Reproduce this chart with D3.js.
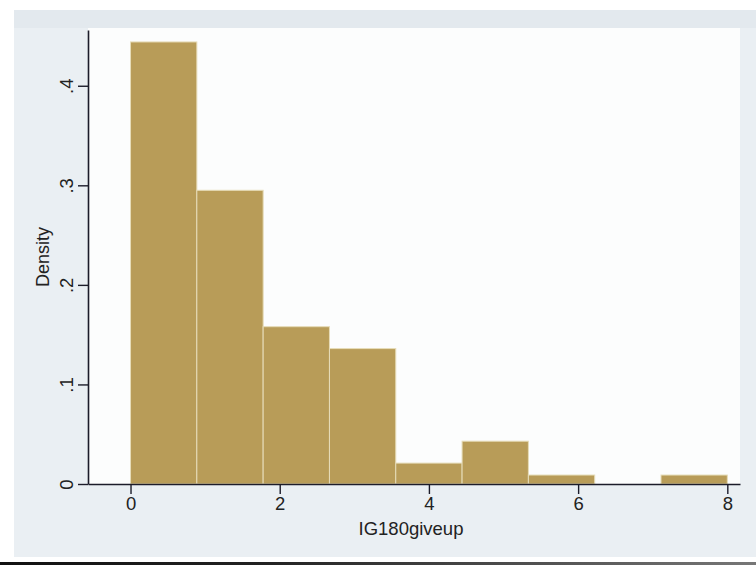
<!DOCTYPE html>
<html>
<head>
<meta charset="utf-8">
<script src="https://cdn.jsdelivr.net/npm/d3@7"></script>
<style>
  html, body { margin: 0; padding: 0; background: #ffffff; }
  svg { display: block; }
  text { font-family: "Liberation Sans", Arial, sans-serif; fill: #222; }
</style>
</head>
<body>
<svg id="chart" width="756" height="568"></svg>
<script>
// ---- data ----
const binStart = 0;
const binEnd = 8;
const binCount = 9;
const densities = [0.444, 0.295, 0.158, 0.136, 0.021, 0.043, 0.009, 0, 0.009];
const xTicks = [0, 2, 4, 6, 8];
const yTicks = [0, 0.1, 0.2, 0.3, 0.4];
const yTickLabels = ["0", ".1", ".2", ".3", ".4"];
const xTitle = "IG180giveup";
const yTitle = "Density";

// ---- layout ----
const svg = d3.select("#chart");
const W = 756, H = 568;
const plot = { left: 88, right: 740, top: 30, bottom: 484 };

const x = d3.scaleLinear().domain([-0.57, 8.17]).range([plot.left, plot.right]);
const y = d3.scaleLinear().domain([0, 0.456]).range([plot.bottom, plot.top]);

// graph region background
svg.append("rect").attr("x", 14).attr("y", 10).attr("width", W - 14).attr("height", 547)
  .attr("fill", "#eaeff3");
svg.append("rect").attr("x", 14).attr("y", 10).attr("width", W - 14).attr("height", 18)
  .attr("fill", "#e3e9ee");
// plot region
svg.append("rect").attr("x", plot.left).attr("y", 28)
  .attr("width", plot.right - plot.left).attr("height", plot.bottom - 28)
  .attr("fill", "#fcfdfd");
// scan edge line at bottom
const grad = svg.append("defs").append("linearGradient").attr("id", "edge");
grad.append("stop").attr("offset", "0%").attr("stop-color", "#111");
grad.append("stop").attr("offset", "35%").attr("stop-color", "#222");
grad.append("stop").attr("offset", "100%").attr("stop-color", "#777");
svg.append("rect").attr("x", 0).attr("y", 562).attr("width", W).attr("height", 3)
  .attr("fill", "url(#edge)");

// ---- bars ----
const binW = (binEnd - binStart) / binCount;
const bins = densities.map((d, i) => ({ x0: binStart + i * binW, x1: binStart + (i + 1) * binW, d }));
svg.append("g").selectAll("rect").data(bins.filter(b => b.d > 0)).join("rect")
  .attr("x", b => x(b.x0))
  .attr("y", b => y(b.d))
  .attr("width", b => x(b.x1) - x(b.x0))
  .attr("height", b => y(0) - y(b.d))
  .attr("fill", "#b89c58")
  .attr("stroke", "#e6dcb8")
  .attr("stroke-width", 1);

// ---- axes ----
const axisColor = "#1c1c2a";
const gx = svg.append("g").attr("transform", `translate(0,${plot.bottom})`)
  .call(d3.axisBottom(x).tickValues(xTicks).tickFormat(d3.format("d")).tickSizeInner(10).tickSizeOuter(0).tickPadding(5));
const gy = svg.append("g").attr("transform", `translate(${plot.left},0)`)
  .call(d3.axisLeft(y).tickValues(yTicks).tickFormat((d, i) => yTickLabels[i]).tickSizeInner(10).tickSizeOuter(0).tickPadding(5));

[gx, gy].forEach(g => {
  g.select(".domain").attr("stroke", axisColor).attr("stroke-width", 1.6);
  g.selectAll(".tick line").attr("stroke", axisColor).attr("stroke-width", 1.4);
  g.selectAll(".tick text").attr("fill", "#222").style("font-size", "18.5px")
    .style("font-family", "'Liberation Sans', Arial, sans-serif");
});

gx.selectAll(".tick text").attr("y", 13).attr("dy", "0.71em");
// rotated y tick labels
gy.selectAll(".tick text")
  .attr("x", null).attr("dy", null)
  .attr("text-anchor", "middle")
  .attr("transform", "translate(-15,0) rotate(-90)")
  .attr("y", 0);

// ---- titles ----
svg.append("text").attr("x", (plot.left + plot.right) / 2 - 3).attr("y", 535)
  .attr("text-anchor", "middle").style("font-size", "18.5px").text(xTitle);
svg.append("text").attr("transform", `translate(49,${(plot.top + plot.bottom) / 2}) rotate(-90)`)
  .attr("text-anchor", "middle").style("font-size", "18px").text(yTitle);
</script>
</body>
</html>
